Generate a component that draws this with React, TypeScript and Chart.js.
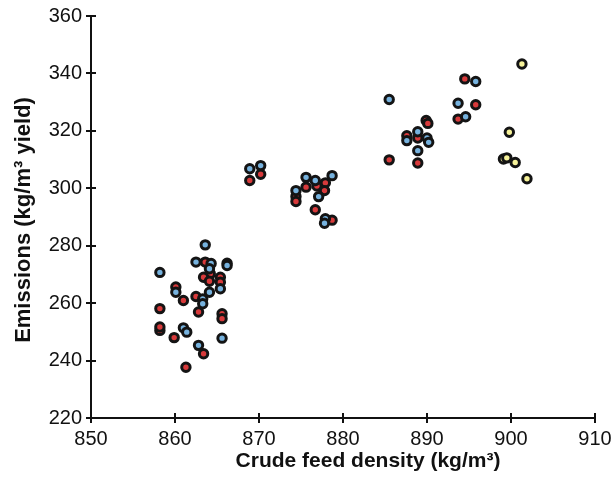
import { useEffect, useRef } from 'react';
import { Chart, registerables } from 'chart.js';

Chart.register(...registerables);

// Crude feed density (kg/m3) and emissions (kg/m3 yield), per colour group
const blueX = [863.6, 858.2, 862.5, 864.3, 866.2, 864.1, 865.4, 860.1, 863.3, 864.1, 863.3, 861.0, 861.4, 865.6, 862.8,
  868.9, 870.2, 875.6, 876.7, 878.7, 877.1, 874.4, 877.9, 877.8,
  885.5, 893.7, 895.8, 894.6, 887.6, 888.9, 890.0, 890.2, 888.9];
const blueY = [280.3, 270.7, 274.3, 273.8, 273.1, 272.0, 265.0, 263.8, 261.5, 263.8, 259.8, 251.4, 249.9, 247.8, 245.3,
  306.8, 307.9, 303.8, 302.7, 304.4, 297.1, 299.2, 289.4, 287.8,
  330.9, 329.6, 337.2, 324.9, 316.6, 319.7, 317.5, 316.0, 313.1];

const redX = [863.6, 866.2, 864.2, 863.4, 864.1, 865.4, 865.4, 860.1, 861.0, 862.5, 858.2, 862.8, 865.6, 865.6, 858.2, 858.2, 859.9, 863.4, 861.3,
  868.9, 870.2, 875.6, 876.9, 877.9, 877.8, 874.4, 874.4, 876.7, 878.7,
  894.5, 895.8, 893.7, 889.9, 890.1, 887.6, 888.9, 885.5, 888.9];
const redY = [274.3, 273.9, 270.2, 269.0, 267.6, 269.0, 267.3, 265.6, 260.9, 262.3, 258.1, 256.9, 256.3, 254.6, 250.5, 251.7, 248.0, 242.4, 237.7,
  302.7, 304.9, 300.4, 300.8, 301.9, 299.2, 297.1, 295.4, 292.5, 288.9,
  338.1, 329.1, 324.1, 323.6, 322.6, 318.3, 317.5, 309.9, 308.8];

const yellowX = [901.3, 899.8, 899.1, 899.5, 900.5, 901.9];
const yellowY = [343.3, 319.5, 310.2, 310.6, 309.0, 303.3];

const xTitle = 'Crude feed density (kg/m\u00B3)';
const yTitle = 'Emissions (kg/m\u00B3 yield)';

const toPoints = (xs: number[], ys: number[]) => xs.map((x, i) => ({ x, y: ys[i] }));

const FONT = '"Liberation Sans", Arial, sans-serif';

const decor = {
  id: 'decor',
  afterDraw(chart: any) {
    const { ctx, chartArea, scales } = chart;
    const x = scales.x;
    const y = scales.y;
    ctx.save();
    ctx.strokeStyle = '#111';
    ctx.lineWidth = 2;
    ctx.beginPath();
    x.ticks.forEach((t: any) => {
      const px = Math.round(x.getPixelForValue(t.value));
      ctx.moveTo(px, chartArea.bottom);
      ctx.lineTo(px, chartArea.bottom - 5);
    });
    y.ticks.forEach((t: any) => {
      const py = Math.round(y.getPixelForValue(t.value));
      ctx.moveTo(chartArea.left, py);
      ctx.lineTo(chartArea.left + 5, py);
    });
    ctx.stroke();

    ctx.fillStyle = '#111';
    ctx.font = 'bold 21px ' + FONT;
    ctx.textAlign = 'center';
    ctx.textBaseline = 'middle';
    ctx.fillText(xTitle, 368, 461);
    ctx.font = 'bold 22px ' + FONT;
    ctx.translate(24, 220);
    ctx.rotate(-Math.PI / 2);
    ctx.fillText(yTitle, 0, 0);
    ctx.restore();
  },
};

const pointStyle = (fill: string) => ({
  backgroundColor: fill,
  borderColor: '#141414',
  borderWidth: 3,
  pointRadius: 4.2,
  pointHoverRadius: 4.2,
  showLine: false,
});

export default function App() {
  const ref = useRef<HTMLCanvasElement | null>(null);

  useEffect(() => {
    document.body.style.margin = '0';
    const canvas = ref.current;
    if (!canvas) return;
    const chart = new Chart(canvas, {
      type: 'scatter',
      data: {
        datasets: [
          { label: 'blue', data: toPoints(blueX, blueY), ...pointStyle('#76b2de') },
          { label: 'red', data: toPoints(redX, redY), ...pointStyle('#d83a3b') },
          { label: 'yellow', data: toPoints(yellowX, yellowY), ...pointStyle('#f7f39a') },
        ],
      },
      options: {
        animation: false,
        responsive: false,
        devicePixelRatio: 1,
        layout: { padding: { left: 0, right: 21, top: 15, bottom: 0 } },
        plugins: { legend: { display: false }, tooltip: { enabled: false } },
        scales: {
          x: {
            type: 'linear',
            min: 850,
            max: 910,
            ticks: { stepSize: 10, color: '#111', font: { size: 20, family: FONT }, padding: 4, maxRotation: 0 },
            grid: { display: true, drawOnChartArea: false, drawTicks: true, tickLength: 5, color: '#111', lineWidth: 2 },
            border: { display: true, color: '#111', width: 2 },
            afterFit: (s: any) => { s.height = 61; },
          },
          y: {
            type: 'linear',
            min: 220,
            max: 360,
            ticks: { stepSize: 20, color: '#111', font: { size: 20, family: FONT }, padding: 4 },
            grid: { display: true, drawOnChartArea: false, drawTicks: true, tickLength: 5, color: '#111', lineWidth: 2 },
            border: { display: true, color: '#111', width: 2 },
            afterFit: (s: any) => { s.width = 91; },
          },
        },
      },
      plugins: [decor],
    });
    return () => chart.destroy();
  }, []);

  return (
    <div style={{ position: 'absolute', left: 0, top: 0, width: 616, height: 479, background: '#fff' }}>
      <canvas ref={ref} width={616} height={479} style={{ display: 'block' }} />
    </div>
  );
}
